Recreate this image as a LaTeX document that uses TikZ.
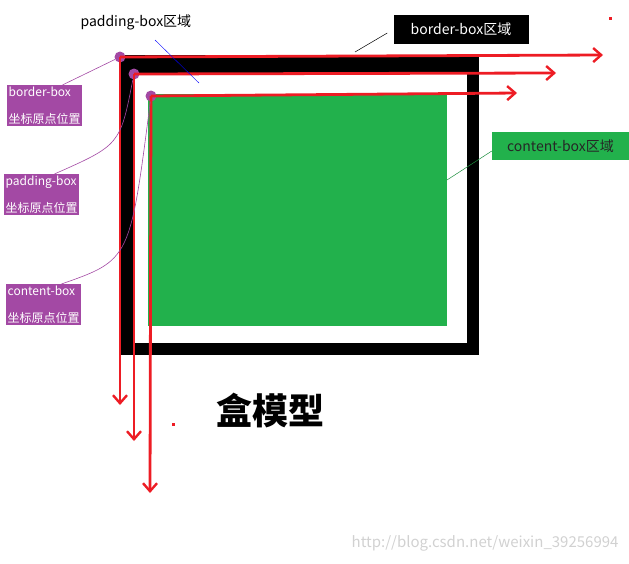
\documentclass[tikz,border=0pt]{standalone}
\usepackage{fontspec}
\setmainfont{Noto Sans CJK SC}
\usetikzlibrary{arrows.meta}
\definecolor{rd}{HTML}{ED1C24}
\definecolor{pu}{HTML}{A349A4}
\definecolor{gr}{HTML}{22B14C}
\tikzset{
 redarr/.style={draw=rd,line width=2.8pt,-{Straight Barb[length=8pt,width=14pt,line width=2.4pt]}},
 plab/.style={fill=pu,text=white,font=\fontsize{12}{27}\selectfont,align=left,inner sep=1.5pt,anchor=north west},
 dot/.style={circle,fill=pu,inner sep=0pt,minimum size=11pt},
 lead/.style={draw=pu,line width=0.6pt}
}
\begin{document}
\begin{tikzpicture}[x=1pt,y=-1pt]
\useasboundingbox (0,0) rectangle (629,563);
\fill[black] (121,55) rectangle (479,355);
\fill[white] (133,73) rectangle (467,343);
\fill[gr] (148,94) rectangle (447,326);
\node[dot] (d1) at (120,57) {};
\node[dot] (d2) at (134,74) {};
\node[dot] (d3) at (151,96) {};
\coordinate (h1) at (603,55); \coordinate (h2) at (556,73); \coordinate (h3) at (517,93);
\coordinate (v1) at (120,405); \coordinate (v2) at (134,441); \coordinate (v3) at (150,493);
\draw[redarr] (d1.center) -- (h1);
\draw[redarr] (d2.center) -- (h2);
\draw[redarr] (d3.center) -- (h3);
\draw[redarr] (d1.center) -- (v1);
\draw[redarr] (d2.center) -- (v2);
\draw[redarr] (d3.center) -- (v3);
\node[plab] (l1) at (7,85) {border-box\\坐标原点位置};
\node[plab] (l2) at (4,174) {padding-box\\坐标原点位置};
\node[plab] (l3) at (6,284) {content-box\\坐标原点位置};
\draw[lead] (l1.north east) ++(-20,0) coordinate (a1) -- (d1);
\draw[lead] (l2.north east) ++(-25,0) coordinate (a2) .. controls (120,145) .. (d2);
\draw[lead] (l3.north east) ++(-20,0) coordinate (a3) .. controls (130,260) .. (d3);
\node[font=\fontsize{14}{16}\selectfont,anchor=west] (pt) at (77,22) {padding-box区域};
\coordinate (pe) at (199,83);
\draw[blue,line width=0.4pt] (155,40) -- (pe);
\node[fill=black,text=white,font=\fontsize{14}{16}\selectfont,minimum width=135pt,minimum height=29pt,inner sep=2pt] (bt) at (461,29) {border-box区域};
\coordinate (be) at (355,52);
\draw[black,line width=0.5pt] (bt.west) ++(-6,4) -- (be);
\node[fill=gr,text=black!85,font=\fontsize{14}{16}\selectfont,minimum width=137pt,minimum height=28pt,inner sep=2pt] (ct) at (560.5,146) {content-box区域};
\coordinate (ce) at (447,180);
\draw[gr!80!black,line width=0.5pt] (ct.west) ++(0,5) -- (ce);
\node[font=\bfseries\fontsize{36}{40}\selectfont] (title) at (270,410) {盒模型};
\fill[rd] (609,17) rectangle (612,20);
\fill[rd] (172,423) rectangle (175,426);
\node[text=black!18,font=\fontsize{15}{17}\selectfont,anchor=east] (wm) at (622,543) {http://blog.csdn.net/weixin\_39256994};
\end{tikzpicture}
\end{document}
